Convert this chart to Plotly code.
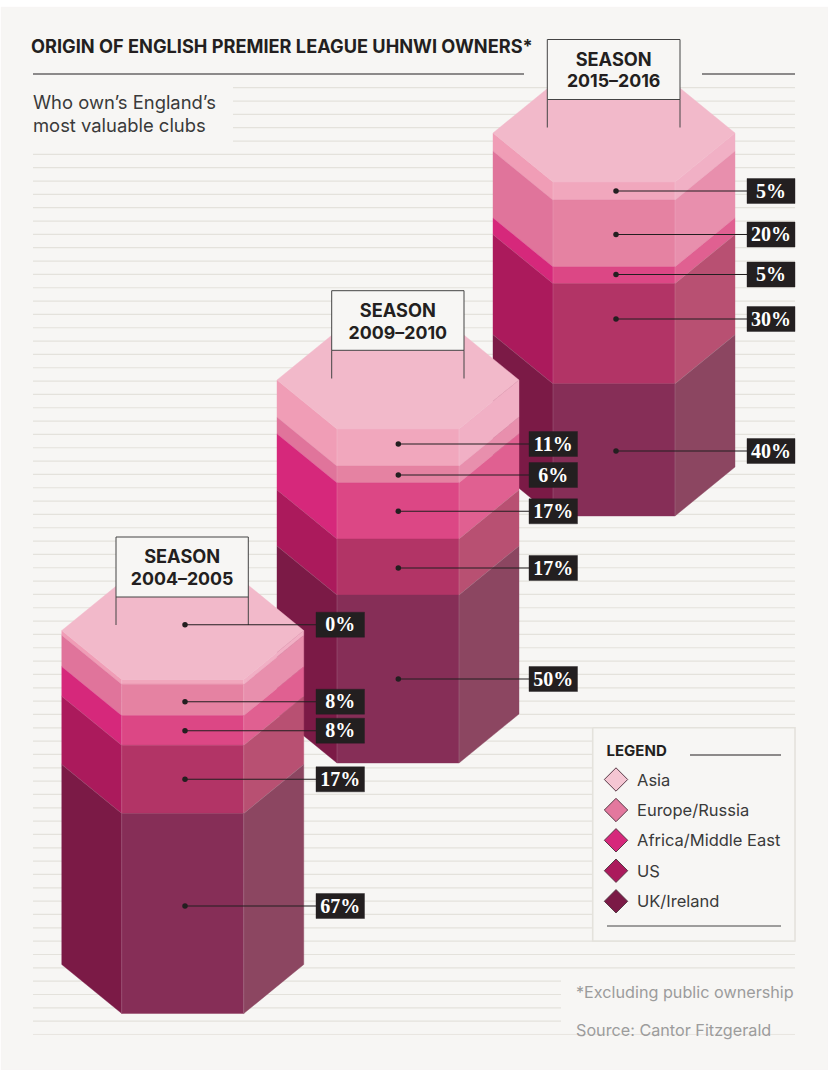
import plotly.graph_objects as go

# ---------- data ----------
regions = ["Asia", "Europe/Russia", "Africa/Middle East", "US", "UK/Ireland"]
seasons = ["2004–2005", "2009–2010", "2015–2016"]
label_2004 = [0, 8, 8, 17, 67]
label_2009 = [11, 6, 17, 17, 50]
label_2015 = [5, 20, 5, 30, 40]
# band thickness as drawn in the picture (share of stack height, %)
drawn_2004 = [1.4, 9.4, 8.9, 20.4, 60.0]
drawn_2009 = [11.1, 5.0, 16.8, 16.8, 50.3]
drawn_2015 = [5.4, 20.0, 5.0, 30.0, 39.6]

# ---------- layout / style ----------
W, H = 828, 1070
PANEL = "#F7F6F4"
RULE = "#E4E2DC"
DARK = "#231F20"
SANS = "Inter, Roboto, sans-serif"
SERIF = "'Liberation Serif', serif"
FACE_TOP = "#F2B9CA"
FACE_LEFT = ["#F09DB6", "#E0749B", "#D6287B", "#AB1A5C", "#7B1A46"]
FACE_FRONT = ["#F1A7BD", "#E582A2", "#DC4785", "#B23466", "#862E57"]
FACE_RIGHT = ["#F1B0C5", "#E88FAD", "#E06091", "#B85072", "#8C4661"]
LEGEND_FILL = ["#F5C6D3", "#E3789E", "#D6287B", "#AB1A5C", "#7B1A46"]
EDGE = "rgba(255,255,255,0.16)"
STACK_H = 334.0
DX, DY = 60.0, 49.0
HALF_FRONT = 61.0

stacks = [
    dict(season=seasons[2], labels=label_2015, drawn=drawn_2015, cx=614.0, bottom=516.0,
         dot_x=616, dot_y=[191, 234.5, 274.5, 319, 451], box_x=(747, 795),
         sign=(547.3, 680, 39.5, 99.5, 127.5)),
    dict(season=seasons[1], labels=label_2009, drawn=drawn_2009, cx=398.0, bottom=763.0,
         dot_x=398.3, dot_y=[444, 475, 511.3, 568, 679], box_x=(529, 577.5),
         sign=(331.7, 464, 290.7, 350.3, 378.5)),
    dict(season=seasons[0], labels=label_2004, drawn=drawn_2004, cx=182.75, bottom=1013.5,
         dot_x=185, dot_y=[624.7, 701.7, 730.7, 779.3, 906], box_x=(316, 364.5),
         sign=(116, 248.3, 537, 597, 625)),
]

fig = go.Figure()


def poly(xs, ys, fill, line=None, width=0):
    fig.add_trace(go.Scatter(
        x=list(xs) + [xs[0]], y=list(ys) + [ys[0]], mode="lines", fill="toself", fillcolor=fill,
        line=dict(color=line or fill, width=width if line else 0.4),
        hoverinfo="skip", showlegend=False))


def seg(x0, y0, x1, y1, color=DARK, width=1.0):
    fig.add_trace(go.Scatter(x=[x0, x1], y=[y0, y1], mode="lines",
                             line=dict(color=color, width=width),
                             hoverinfo="skip", showlegend=False))


def text(x, y, s, size, color=DARK, family=SANS, bold=False, pos="middle right"):
    fig.add_trace(go.Scatter(x=[x], y=[y], mode="text", text=[f"<b>{s}</b>" if bold else s],
                             textposition=pos,
                             textfont=dict(size=size, color=color, family=family),
                             hoverinfo="skip", showlegend=False))


# panel
poly([1, W, W, 1], [7, 7, H, H], PANEL)

# ruled background
N_RULES = 72
for i in range(N_RULES):
    y = 87.7 + i * 13.335
    if i < 5:
        x0, x1 = 233, 795
    else:
        x0, x1 = 33, 795
    if y > 975 and i < N_RULES - 1:
        x1 = 561
    seg(x0, y, x1, y, RULE, 1.2 if i < N_RULES - 1 else 0.8)

# header
text(31, 48, "ORIGIN OF ENGLISH PREMIER LEAGUE UHNWI OWNERS*", 18.2, bold=True)
seg(33, 74, 524, 74, DARK, 1.1)
seg(702, 74, 795, 74, DARK, 1.1)
text(33, 104, "Who own’s England’s", 18.4, "#3A3A3A")
text(33, 127, "most valuable clubs", 18.4, "#3A3A3A")

# stacks
for st in stacks:
    cx, bottom = st["cx"], st["bottom"]
    xl, xil = cx - HALF_FRONT - DX, cx - HALF_FRONT
    xir, xr = cx + HALF_FRONT, cx + HALF_FRONT + DX
    top = bottom - STACK_H
    t = top
    bands = []
    for d in st["drawn"]:
        b = t + d / 100 * STACK_H
        bands.append((t, b))
        t = b
    bands[-1] = (bands[-1][0], bottom)
    for i, (t, b) in enumerate(bands):
        poly([xl, xil, xil, xl], [t - DY, t, b, b - DY], FACE_LEFT[i])
        poly([xil, xir, xir, xil], [t, t, b, b], FACE_FRONT[i])
        poly([xir, xr, xr, xir], [t, t - DY, b - DY, b], FACE_RIGHT[i])
    poly([xil, xir, xr, xir, xil, xl], [top - 2 * DY, top - 2 * DY, top - DY, top, top, top - DY], FACE_TOP)
    # faint highlights along face edges
    seg(xil, top, xil, bottom, EDGE, 0.8)
    seg(xir, top, xir, bottom, EDGE, 0.8)
    for t, b in bands[1:]:
        seg(xl, t - DY, xil, t, EDGE, 0.7)
        seg(xir, t, xr, t - DY, EDGE, 0.7)

    # sign
    sx0, sx1, sy0, sy1, pole = st["sign"]
    poly([sx0, sx1, sx1, sx0], [sy0, sy0, sy1, sy1], PANEL, "#444444", 1)
    seg(sx0, sy1, sx0, pole, "#444444", 1)
    seg(sx1, sy1, sx1, pole, "#444444", 1)
    smid = (sx0 + sx1) / 2
    text(smid, sy0 + 21.5, "SEASON", 18.2, bold=True, pos="middle center")
    text(smid, sy0 + 43.5, st["season"], 17.8, bold=True, pos="middle center")

    # call-outs
    bx0, bx1 = st["box_x"]
    for val, y in zip(st["labels"], st["dot_y"]):
        seg(st["dot_x"], y, bx0, y, DARK, 1.1)
        fig.add_trace(go.Scatter(x=[st["dot_x"]], y=[y], mode="markers",
                                 marker=dict(size=5.5, color=DARK, line=dict(width=0)),
                                 hoverinfo="skip", showlegend=False))
        poly([bx0, bx1, bx1, bx0], [y - 12.5, y - 12.5, y + 12.5, y + 12.5], DARK)
        text((bx0 + bx1) / 2, y + 1.5, f"{val}%", 20, "#FFFFFF", SERIF, True, "middle center")

# legend
poly([592.7, 795, 795, 592.7], [727.7, 727.7, 941, 941], PANEL, RULE, 1.6)
text(606.5, 752.5, "LEGEND", 15, bold=True)
seg(690, 755, 781, 755, DARK, 1)
legend_y = [779.5, 810, 840.3, 870.7, 901.3]
for name, fill, y in zip(regions, LEGEND_FILL, legend_y):
    fig.add_trace(go.Scatter(x=[616], y=[y], mode="markers",
                             marker=dict(symbol="diamond", size=18, color=fill,
                                         line=dict(color="#5A3A48", width=1)),
                             hoverinfo="skip", showlegend=False))
    text(637, y + 2, name, 16.5, "#3A3A3A")
seg(607, 926, 781, 926, "#444444", 1)

# notes
text(576, 994, "*Excluding public ownership", 16.2, "#9C9C9C")
text(576, 1032, "Source: Cantor Fitzgerald", 16.2, "#9C9C9C")

fig.update_layout(
    width=W, height=H, margin=dict(l=0, r=0, t=0, b=0), autosize=False,
    paper_bgcolor="#FFFFFF", plot_bgcolor="#FFFFFF", showlegend=False,
    xaxis=dict(range=[0, W], visible=False, fixedrange=True),
    yaxis=dict(range=[H, 0], visible=False, fixedrange=True),
)
fig.write_html("out.html", config=dict(displayModeBar=False),
               post_script="document.body.style.margin='0';document.documentElement.style.overflow='hidden';")
